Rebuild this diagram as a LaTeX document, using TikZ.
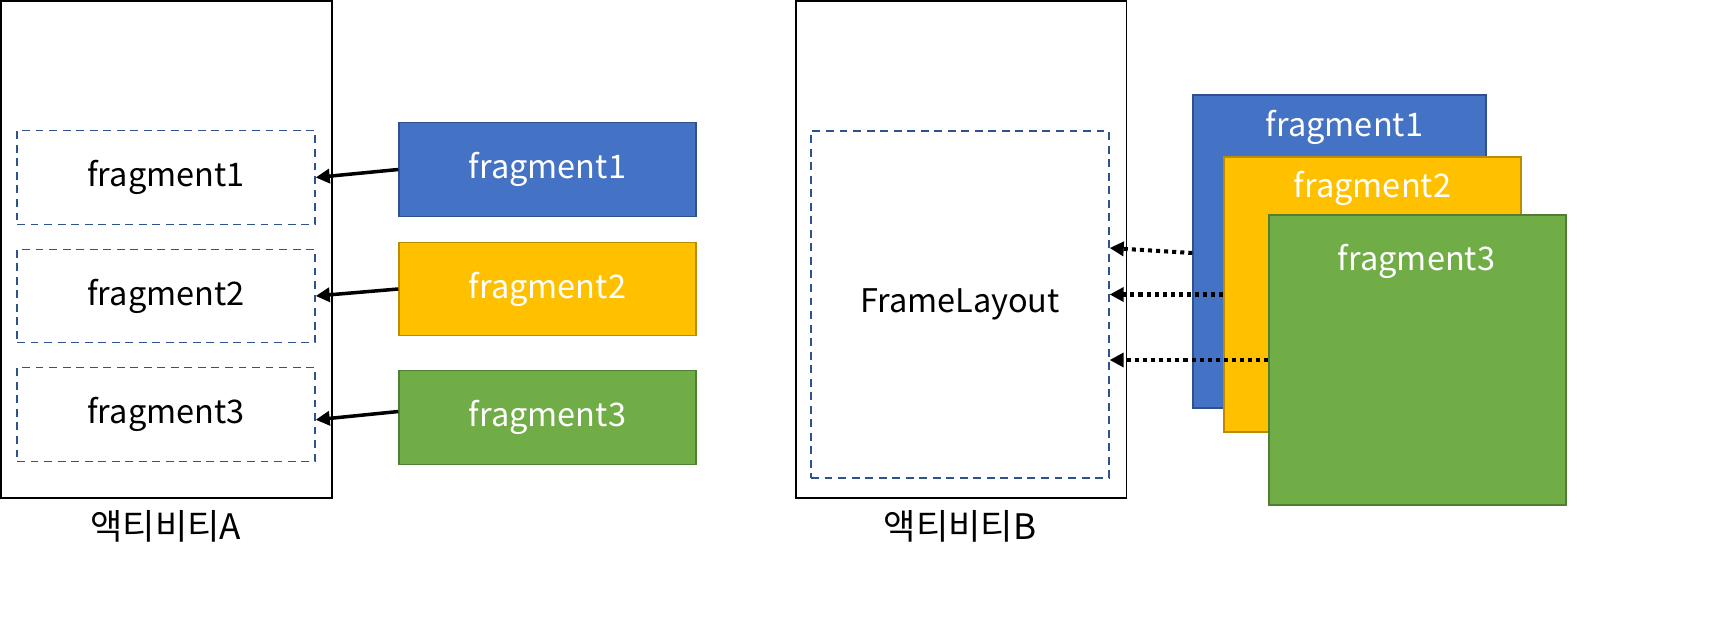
\documentclass[tikz,border=0pt]{standalone}
\usepackage{fontspec}
\setmainfont{Noto Sans CJK KR}
\usetikzlibrary{arrows.meta,calc}
\definecolor{fragblue}{HTML}{4472C4}
\definecolor{fragyellow}{HTML}{FFC000}
\definecolor{fraggreen}{HTML}{70AD47}
\definecolor{edgeblue}{HTML}{2F528F}
\definecolor{edgeyellow}{HTML}{BC8C00}
\definecolor{edgegreen}{HTML}{507E32}
\tikzset{
  activity/.style={draw=black, line width=1.1pt, minimum width=6.62cm, minimum height=9.94cm, inner sep=0pt},
  actname/.style={font=\fontsize{20pt}{24pt}\selectfont, inner sep=0pt},
  holder/.style={draw=edgeblue, line width=0.8pt, dash pattern=on 4.5pt off 3.2pt, minimum width=5.96cm, minimum height=1.87cm, inner sep=0pt},
  fragbox/.style={line width=0.8pt, minimum width=5.94cm, minimum height=1.87cm, inner sep=0pt, text=white},
  fraglabel/.style={anchor=center, text=white, inner sep=0pt},
  push/.style={line width=2pt, -{Triangle[length=8pt,width=8pt]}},
  overlay push/.style={line width=2.3pt, dash pattern=on 2.3pt off 2.3pt, -{Triangle[length=8pt,width=8pt]}}
}
\begin{document}
\begin{tikzpicture}[x=0.02cm, y=-0.02cm, font=\fontsize{18.5pt}{22pt}\selectfont]
    \useasboundingbox (0,0) rectangle (1724,624);
    %% activity A
    \node[activity] (actA) at (166.5,249.5) {};
    \node[actname] (actAname) at (166,526) {액티비티A};
    \node[holder] (ha1) at (166,177.5) {fragment1};
    \node[holder] (ha2) at (166,296) {fragment2};
    \node[holder] (ha3) at (166,414.5) {fragment3};
    \node[fragbox, fill=fragblue, draw=edgeblue] (fa1) at (547.5,169.5) {fragment1};
    \node[fragbox, fill=fragyellow, draw=edgeyellow] (fa2) at (547.5,289) {fragment2};
    \node[fragbox, fill=fraggreen, draw=edgegreen] (fa3) at (547.5,417.5) {fragment3};
    \draw[push] (fa1.west) -- (ha1.east);
    \draw[push] (fa2.west) -- (ha2.east);
    \draw[push] ([yshift=3.4pt]fa3.west) -- ([yshift=-3pt]ha3.east);
    %% activity B
    \node[activity] (actB) at (961,249.5) {};
    \node[actname] (actBname) at (960,526) {액티비티B};
    \node[holder, minimum height=6.94cm] (hb) at (960,304.5) {FrameLayout};
    \node[fragbox, fill=fragblue, draw=edgeblue, minimum width=5.86cm, minimum height=6.26cm] (fb1) at (1339.5,251.5) {};
    \node[fragbox, fill=fragyellow, draw=edgeyellow, minimum height=5.5cm] (fb2) at (1372.5,294.5) {};
    \node[fragbox, fill=fraggreen, draw=edgegreen, minimum height=5.8cm] (fb3) at (1417.5,360) {};
    \node[fraglabel] (fb1name) at ($(fb1.north)+(5,33)$) {fragment1};
    \node[fraglabel] (fb2name) at ($(fb2.north)+(0,32)$) {fragment2};
    \node[fraglabel] (fb3name) at ($(fb3.north)+(-1,47)$) {fragment3};
    \draw[overlay push] ($(fb1.west)+(0,1.5)$) -- ($(hb.east)+(0,-56.5)$);
    \draw[overlay push] (fb2.west) -- (hb.east |- fb2.west);
    \draw[overlay push] (fb3.west) -- (hb.east |- fb3.west);
\end{tikzpicture}
\end{document}
